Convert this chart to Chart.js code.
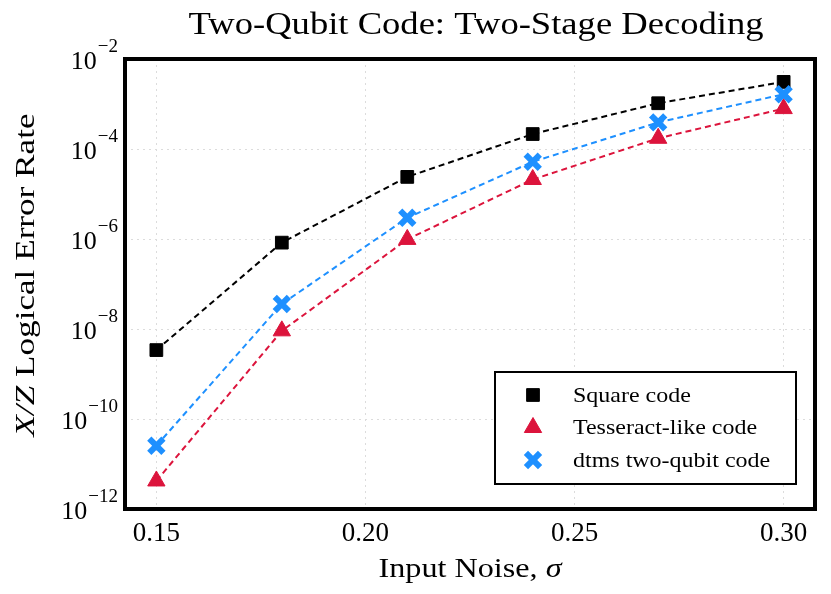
<!DOCTYPE html>
<html>
<head>
<meta charset="utf-8">
<script src="https://cdn.jsdelivr.net/npm/chart.js@4/dist/chart.umd.min.js"></script>
<style>
  html, body { margin: 0; padding: 0; background: #fff; }
  #wrap { width: 831px; height: 594px; }
</style>
</head>
<body>
<div id="wrap"><canvas id="chart"></canvas></div>
<script>
// data
const noise = [0.15, 0.18, 0.21, 0.24, 0.27, 0.30];
const squareCode = [3.4e-9, 8.3e-7, 2.4e-5, 2.15e-4, 1.04e-3, 3.1e-3];
const tesseractCode = [4.2e-12, 9.1e-9, 9.8e-7, 2.1e-5, 1.73e-4, 7.9e-4];
const dtmsCode = [2.55e-11, 3.6e-8, 2.96e-6, 5.2e-5, 3.9e-4, 1.65e-3];
const xTicks = [0.15, 0.20, 0.25, 0.30];
const yTickExps = [-12, -10, -8, -6, -4, -2];

const SERIF = '"Liberation Serif", "DejaVu Serif", serif';

const pts = (ys) => noise.map((x, i) => ({ x: x, y: ys[i] }));

// draw text parts (some italic) centred at cx, stretched to a target width
// (the reference uses Computer Modern, which runs a bit wider than Times)
function wideText(ctx, parts, cx, y, size, targetW) {
  let nat = 0;
  const widths = parts.map(p => {
    ctx.font = (p.it ? 'italic ' : '') + size + 'px ' + SERIF;
    const w = ctx.measureText(p.t).width;
    nat += w;
    return w;
  });
  const s = targetW / nat;
  ctx.save();
  ctx.translate(cx, y);
  ctx.scale(s, 1);
  ctx.textAlign = 'left';
  let x = -nat / 2;
  parts.forEach((p, i) => {
    ctx.font = (p.it ? 'italic ' : '') + size + 'px ' + SERIF;
    ctx.fillText(p.t, x, 0);
    x += widths[i];
  });
  ctx.restore();
}

const decorations = {
  id: 'decorations',
  afterDatasetsDraw(chart) {
    const ctx = chart.ctx;
    const a = chart.chartArea;
    const yScale = chart.scales.y;
    ctx.save();

    // frame
    ctx.strokeStyle = '#000';
    ctx.lineWidth = 4;
    ctx.strokeRect(a.left, a.top, a.right - a.left, a.bottom - a.top);

    ctx.fillStyle = '#000';
    ctx.textBaseline = 'alphabetic';

    // title
    wideText(ctx, [{ t: 'Two-Qubit Code: Two-Stage Decoding' }], 476, 34, 32, 575);

    // x axis title
    wideText(ctx, [{ t: 'Input Noise, ' }, { t: '\u03c3', it: true }], (a.left + a.right) / 2, 577, 28, 183);

    // y axis title, rotated
    ctx.save();
    ctx.translate(34, 275);
    ctx.rotate(-Math.PI / 2);
    wideText(ctx, [{ t: 'X/Z', it: true }, { t: ' Logical Error Rate' }], 0, 0, 28, 323);
    ctx.restore();

    // y tick labels as 10^n
    ctx.textAlign = 'right';
    yScale.ticks.forEach(t => {
      const y = yScale.getPixelForValue(t.value);
      const exp = '\u2212' + Math.abs(Math.round(Math.log10(t.value)));
      ctx.font = '19px ' + SERIF;
      const ew = ctx.measureText(exp).width;
      ctx.fillText(exp, a.left - 7, y - 7);
      ctx.font = '26px ' + SERIF;
      ctx.fillText('10', a.left - 8 - ew, y + 10);
    });

    // legend
    const lx = 495, ly = 372, lw = 301, lh = 112;
    ctx.fillStyle = '#fff';
    ctx.fillRect(lx, ly, lw, lh);
    ctx.strokeStyle = '#000';
    ctx.lineWidth = 2;
    ctx.strokeRect(lx, ly, lw, lh);
    chart.data.datasets.forEach((ds, i) => {
      const cy = ly + 23 + i * 32.5;
      ctx.save();
      ctx.fillStyle = ds.pointBackgroundColor;
      ctx.strokeStyle = ds.pointBorderColor;
      ctx.lineWidth = ds.pointBorderWidth;
      Chart.helpers.drawPoint(ctx, {
        pointStyle: ds.pointStyle,
        rotation: 0,
        radius: ds.pointRadius,
        borderWidth: ds.pointBorderWidth
      }, lx + 38, cy);
      ctx.restore();
      ctx.fillStyle = '#000';
      ctx.textBaseline = 'middle';
      ctx.save();
      ctx.translate(lx + 78, cy + 1);
      ctx.scale(1.09, 1);
      ctx.textAlign = 'left';
      ctx.font = '22px ' + SERIF;
      ctx.fillText(ds.label, 0, 0);
      ctx.restore();
    });
    ctx.restore();
  }
};

new Chart(document.getElementById('chart'), {
  type: 'line',
  data: {
    datasets: [
      {
        label: 'Square code',
        data: pts(squareCode),
        borderColor: '#000000',
        borderWidth: 2,
        borderDash: [6, 4],
        pointStyle: 'rect',
        pointRadius: 9,
        pointBackgroundColor: '#000000',
        pointBorderColor: '#000000',
        pointBorderWidth: 1,
        order: 3
      },
      {
        label: 'Tesseract-like code',
        data: pts(tesseractCode),
        borderColor: '#dc143c',
        borderWidth: 2,
        borderDash: [6, 4],
        pointStyle: 'triangle',
        pointRadius: 10,
        pointBackgroundColor: '#dc143c',
        pointBorderColor: '#dc143c',
        pointBorderWidth: 1,
        order: 2
      },
      {
        label: 'dtms two-qubit code',
        data: pts(dtmsCode),
        borderColor: '#1e90ff',
        borderWidth: 2,
        borderDash: [6, 4],
        pointStyle: 'crossRot',
        pointRadius: 10,
        pointBackgroundColor: '#1e90ff',
        pointBorderColor: '#1e90ff',
        pointBorderWidth: 6,
        order: 1
      }
    ]
  },
  options: {
    responsive: true,
    maintainAspectRatio: false,
    animation: false,
    layout: { padding: { top: 59, right: 12, left: 0, bottom: 0 } },
    plugins: {
      legend: { display: false },
      tooltip: { enabled: false },
      title: { display: false }
    },
    scales: {
      x: {
        type: 'linear',
        min: 0.1425,
        max: 0.3075,
        afterBuildTicks: (scale) => { scale.ticks = xTicks.map(v => ({ value: v })); },
        afterFit: (scale) => { scale.height = 85; },
        ticks: {
          callback: (v) => v.toFixed(2),
          font: { family: SERIF, size: 27 },
          color: '#000',
          padding: 9,
          maxRotation: 0
        },
        grid: { color: '#dcdcdc', lineWidth: 1, drawTicks: false },
        border: { display: false, dash: [2, 4] }
      },
      y: {
        type: 'logarithmic',
        min: 1e-12,
        max: 1e-2,
        afterBuildTicks: (scale) => { scale.ticks = yTickExps.map(e => ({ value: Math.pow(10, e) })); },
        afterFit: (scale) => { scale.width = 125; },
        ticks: { callback: () => '' },
        grid: { color: '#dcdcdc', lineWidth: 1, drawTicks: false },
        border: { display: false, dash: [2, 4] }
      }
    }
  },
  plugins: [decorations]
});
</script>
</body>
</html>
